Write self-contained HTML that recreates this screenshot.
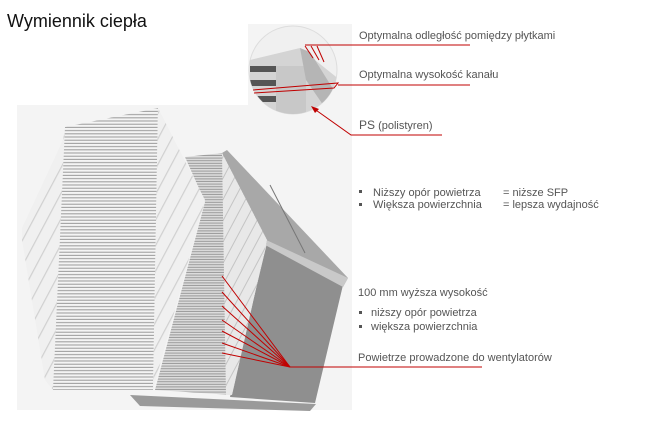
<!DOCTYPE html>
<html><head><meta charset="utf-8"><style>
html,body{margin:0;padding:0;background:#fff;}
svg{display:block;}
text{font-family:"Liberation Sans",Arial,sans-serif;fill:#555;font-size:11px;}
</style></head><body>
<svg width="648" height="440" viewBox="0 0 648 440" xmlns="http://www.w3.org/2000/svg">
<defs>
<pattern id="st" width="4" height="3.2" patternUnits="userSpaceOnUse">
<rect width="4" height="3.2" fill="#f4f4f4"/><rect y="2.1" width="4" height="1" fill="#9a9a9a"/></pattern>
<pattern id="st2" width="4" height="2.6" patternUnits="userSpaceOnUse">
<rect width="4" height="2.6" fill="#dcdcdc"/><rect y="1.6" width="4" height="1" fill="#999"/></pattern>
<pattern id="fin" width="12" height="12" patternUnits="userSpaceOnUse" patternTransform="rotate(28)">
<rect width="12" height="12" fill="#f0f0f0"/><rect x="0" width="1.2" height="12" fill="#d0d0d0"/></pattern>
<pattern id="fin2" width="10" height="10" patternUnits="userSpaceOnUse" patternTransform="rotate(28)">
<rect width="10" height="10" fill="#e8e8e8"/><rect x="0" width="1" height="10" fill="#c4c4c4"/></pattern>
<clipPath id="cc"><circle cx="293" cy="70" r="44"/></clipPath>
</defs>
<text x="7" y="27" style="font-size:18px;fill:#111">Wymiennik ciepła</text>

<rect x="17" y="105" width="335" height="305" fill="#f4f4f4"/>
<rect x="248" y="24" width="104" height="92" fill="#f4f4f4"/>

<polygon points="222,153 227,150 348,278 343,287 267,243" fill="#a8a8a8"/>
<line x1="270" y1="185" x2="305" y2="253" stroke="#777" stroke-width="1"/>
<polygon points="267,243 343,285 315,403 230,397" fill="#8f8f8f"/>
<polygon points="262,238 348,278 343,287 267,246" fill="#c9c9c9"/>
<polygon points="130,395 316,404 310,411 140,406" fill="#9a9a9a"/>
<polygon points="185,157 222,153 267,240 232,395 155,390 205,202" fill="url(#st2)"/>
<polygon points="222,153 267,240 232,395 226,395" fill="url(#fin2)"/>

<polygon points="22,228 63,140 65,127 53,390 45,380 22,240" fill="url(#fin)"/>
<polygon points="65,127 158,108 153,390 53,390" fill="url(#st)"/>
<polygon points="158,108 205,200 153,390" fill="url(#fin)"/>

<circle cx="293" cy="70" r="44" fill="#f0f0f0" stroke="#ddd"/>
<g clip-path="url(#cc)">
<polygon points="250,60 300,48 340,80 330,120 250,120" fill="#d4d4d4"/>
<rect x="250" y="66" width="50" height="6" fill="#555"/>
<rect x="250" y="80" width="50" height="6" fill="#555"/>
<rect x="250" y="96" width="50" height="6" fill="#555"/>
<rect x="276" y="66" width="30" height="60" fill="#c8c8c8"/>
<polygon points="300,48 310,52 340,100 330,115 306,80" fill="#b5b5b5"/>
</g>

<g stroke="#c00000" stroke-width="1" fill="none">
<line x1="305" y1="45" x2="470" y2="45"/>
<line x1="305" y1="46" x2="313" y2="58"/><line x1="311" y1="46" x2="319" y2="60"/><line x1="317" y1="46" x2="324" y2="62"/>
<polyline points="253,90 338,83 334,88 254,93"/>
<line x1="338" y1="85" x2="470" y2="85"/>
<polyline points="313,108 351,135 442,135"/>
<line x1="290" y1="367" x2="482" y2="367"/>
<line x1="222" y1="276" x2="290" y2="367"/><line x1="222" y1="292" x2="290" y2="367"/>
<line x1="222" y1="306" x2="290" y2="367"/><line x1="222" y1="320" x2="290" y2="367"/>
<line x1="222" y1="331" x2="290" y2="367"/><line x1="222" y1="343" x2="290" y2="367"/>
<line x1="222" y1="353" x2="290" y2="367"/>
</g>
<polygon points="311,106 319,109 315,113" fill="#c00000"/>

<text x="359" y="39">Optymalna odległość pomiędzy płytkami</text>
<text x="359" y="78">Optymalna wysokość kanału</text>
<text x="359" y="129"><tspan style="font-size:12px">PS</tspan> (polistyren)</text>
<rect x="359" y="190" width="3" height="3" fill="#555"/><text x="373" y="196">Niższy opór powietrza</text><text x="503" y="196">= niższe SFP</text>
<rect x="359" y="203" width="3" height="3" fill="#555"/><text x="373" y="208">Większa powierzchnia</text><text x="503" y="208">= lepsza wydajność</text>
<text x="358" y="296">100 mm wyższa wysokość</text>
<rect x="359" y="311" width="3" height="3" fill="#555"/><text x="371" y="316">niższy opór powietrza</text>
<rect x="359" y="325" width="3" height="3" fill="#555"/><text x="371" y="330">większa powierzchnia</text>
<text x="358" y="361">Powietrze prowadzone do wentylatorów</text>
</svg>
</body></html>
